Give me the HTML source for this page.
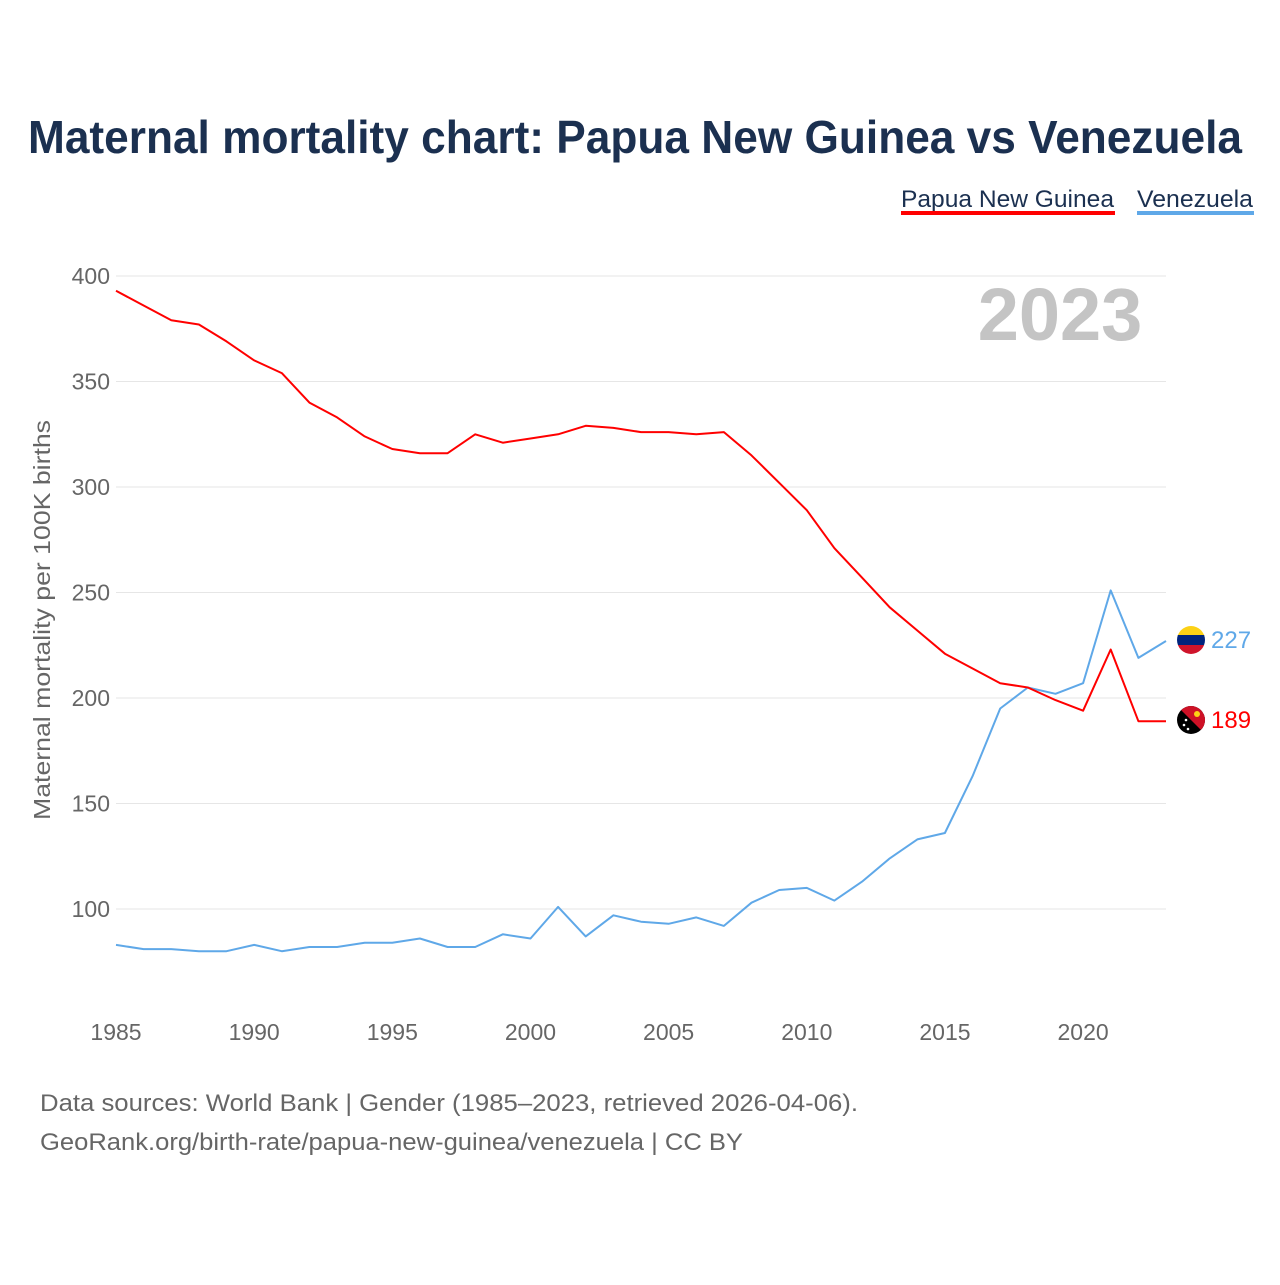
<!DOCTYPE html>
<html><head><meta charset="utf-8">
<style>
body{margin:0;background:#fff;font-family:"Liberation Sans",sans-serif;}
svg text{font-family:"Liberation Sans",sans-serif;}
</style></head>
<body>
<svg id="chart" width="1280" height="1280" xmlns="http://www.w3.org/2000/svg">
<text x="28" y="153" textLength="1214" lengthAdjust="spacingAndGlyphs" font-size="46" font-weight="bold" fill="#1b3050">Maternal mortality chart: Papua New Guinea vs Venezuela</text>
<g>
<text x="901" y="207" textLength="213" lengthAdjust="spacingAndGlyphs" font-size="24" fill="#1b3050">Papua New Guinea</text>
<rect x="901" y="211" width="214" height="4" fill="#ff0000"/>
<text x="1137" y="207" textLength="116" lengthAdjust="spacingAndGlyphs" font-size="24" fill="#1b3050">Venezuela</text>
<rect x="1137" y="211" width="117" height="4" fill="#5fa8e8"/>
</g>
<text x="1060" y="340" text-anchor="middle" font-size="74" font-weight="bold" fill="#c4c4c4">2023</text>
<g id="grid"></g>
<g id="xticks"></g>
<text transform="translate(50,620) rotate(-90)" text-anchor="middle" textLength="400" lengthAdjust="spacingAndGlyphs" font-size="23" fill="#666">Maternal mortality per 100K births</text>
<g id="series"></g>
<g>
<clipPath id="cv"><circle cx="1191" cy="640" r="14"/></clipPath>
<g clip-path="url(#cv)"><rect x="1177" y="626" width="28" height="10" fill="#fcd116"/><rect x="1177" y="635" width="28" height="10" fill="#00247d"/><rect x="1177" y="645" width="28" height="10" fill="#cf142b"/></g>
</g>
<g>
<clipPath id="cp"><circle cx="1191" cy="720" r="14"/></clipPath>
<g clip-path="url(#cp)"><rect x="1177" y="706" width="28" height="28" fill="#000"/><polygon points="1177,706 1205,706 1205,734" fill="#ce1126"/><circle cx="1197" cy="714" r="3" fill="#fcd116"/><circle cx="1184" cy="725" r="1.3" fill="#fff"/><circle cx="1188" cy="729" r="1.3" fill="#fff"/><circle cx="1186" cy="720" r="1.3" fill="#fff"/></g>
</g>
<text x="1211" y="648" font-size="24" fill="#5fa8e8">227</text>
<text x="1211" y="728" font-size="24" fill="#ff0000">189</text>
<text x="40" y="1111" textLength="818" lengthAdjust="spacingAndGlyphs" font-size="24" fill="#666">Data sources: World Bank | Gender (1985–2023, retrieved 2026-04-06).</text>
<text x="40" y="1150" textLength="703" lengthAdjust="spacingAndGlyphs" font-size="24" fill="#666">GeoRank.org/birth-rate/papua-new-guinea/venezuela | CC BY</text>
</svg>
<script>
const years=[];for(let y=1985;y<=2023;y++)years.push(y);
const pngValues=[393,386,379,377,369,360,354,340,333,324,318,316,316,325,321,323,325,329,328,326,326,325,326,315,302,289,271,257,243,232,221,214,207,205,199,194,223,189,189];
const venValues=[83,81,81,80,80,83,80,82,82,84,84,86,82,82,88,86,101,87,97,94,93,96,92,103,109,110,104,113,124,133,136,163,195,205,202,207,251,219,227];
const yTicks=[100,150,200,250,300,350,400];
const xTicks=[1985,1990,1995,2000,2005,2010,2015,2020];
const NS="http://www.w3.org/2000/svg";
const xS=y=>116+(y-1985)*(1166-116)/38;
const yS=v=>909-(v-100)*(909-276)/300;
function mk(t,a,p){const e=document.createElementNS(NS,t);for(const k in a)e.setAttribute(k,a[k]);p.appendChild(e);return e;}
const grid=document.getElementById('grid');
yTicks.forEach(v=>{
 const l=mk('line',{x1:116,x2:1166,y1:yS(v),y2:yS(v),stroke:'#e6e6e6','stroke-width':1},grid);
 
 
 const t=mk('text',{x:110,y:yS(v)+8,'text-anchor':'end','font-size':23,fill:'#666'},grid);
 t.textContent=v;
 
 
});
const xt=document.getElementById('xticks');
xTicks.forEach(v=>{
 const t=mk('text',{x:xS(v),y:1040,'text-anchor':'middle','font-size':23,fill:'#666'},xt);
 t.textContent=v;
 
 
});
const sg=document.getElementById('series');
function line(vals,color,name){
 const d=vals.map((v,i)=>(i?'L':'M')+xS(years[i]).toFixed(1)+','+yS(v).toFixed(1)).join('');
 const p=mk('path',{d:d,fill:'none',stroke:color,'stroke-width':2,'stroke-linejoin':'round'},sg);
 
 
}
line(venValues,'#5fa8e8','line-venezuela');
line(pngValues,'#ff0000','line-papua-new-guinea');
</script>
</body></html>
